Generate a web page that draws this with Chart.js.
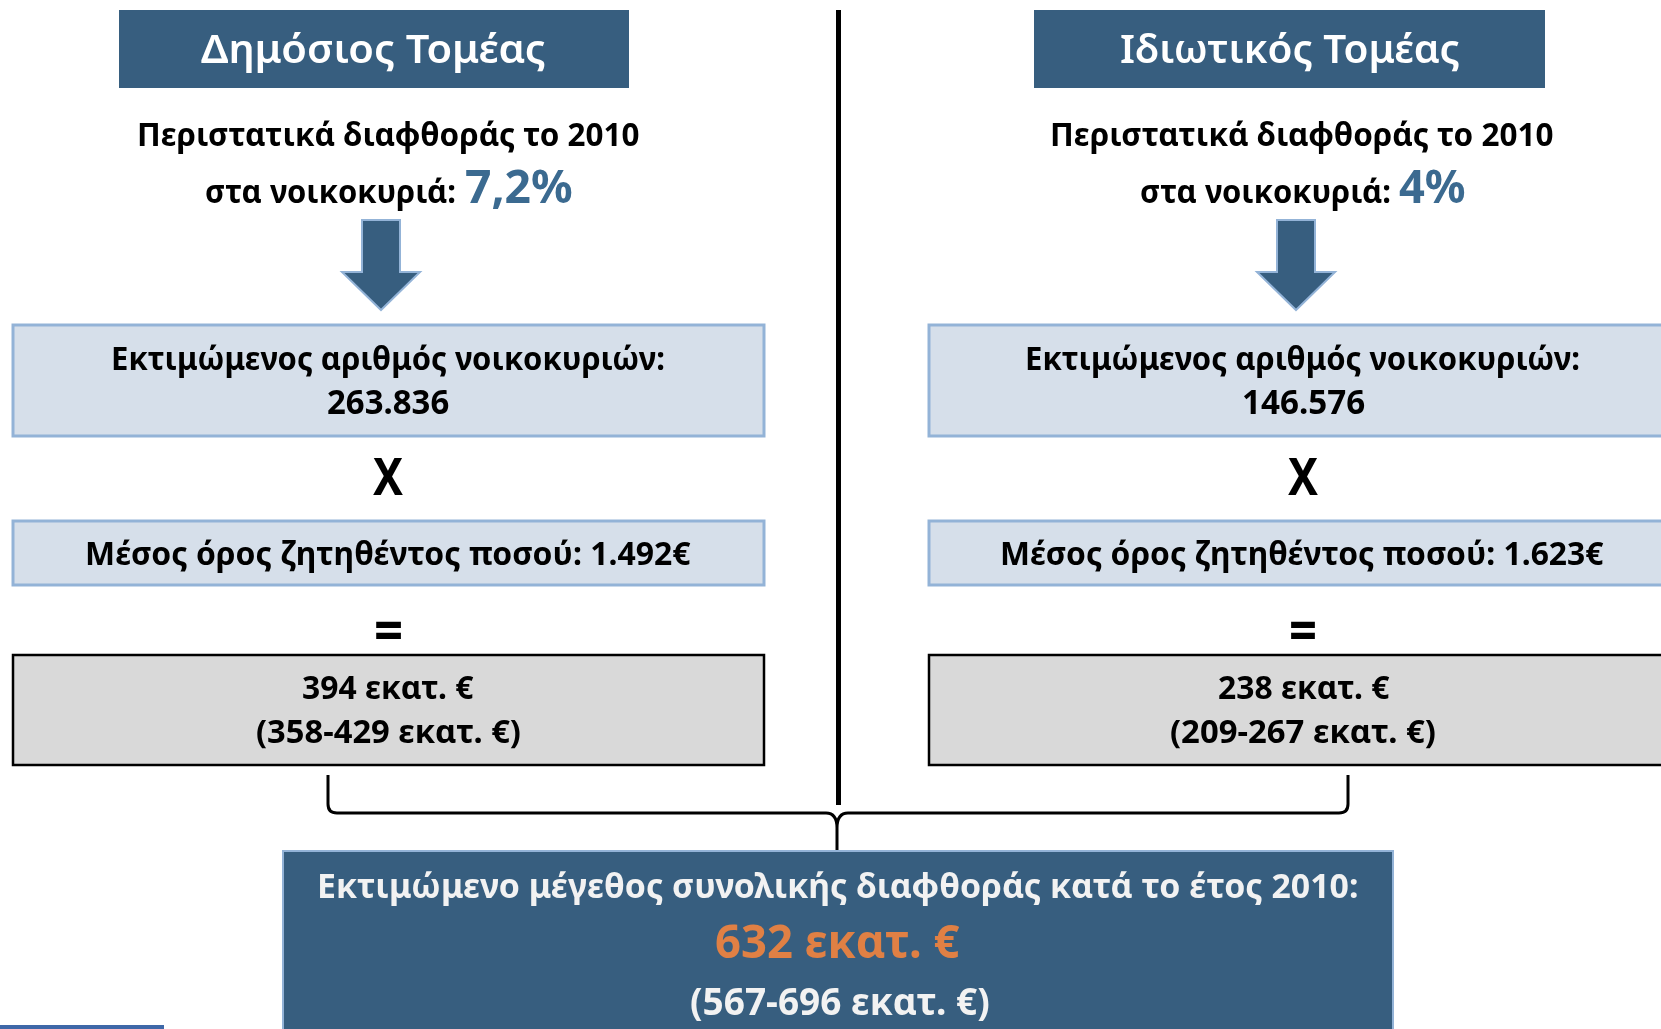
<!DOCTYPE HTML>
<html lang="el">
<head>
    <meta charset="UTF-8">
    <title>Εκτιμώμενο μέγεθος διαφθοράς 2010</title>
    <style>
        html, body {
            margin: 0;
            padding: 0;
            background: #fff;
            overflow: hidden;
        }
        #chart-container {
            width: 1661px;
            height: 1029px;
        }
    </style>
</head>
<body>
    <div id="chart-container">
        <canvas id="chart"></canvas>
    </div>

    <script src="https://cdn.jsdelivr.net/npm/chart.js"></script>
    <script>
        // Δεδομένα (ένα στοιχείο ανά τομέα)
        const sectors = ['Δημόσιος Τομέας', 'Ιδιωτικός Τομέας'];
        const incidenceRate = [7.2, 4];          // % νοικοκυριών
        const households = [263836, 146576];     // εκτιμώμενος αριθμός νοικοκυριών
        const avgAmount = [1492, 1623];          // € ανά περιστατικό
        const estimate = [394, 238];             // εκατ. €
        const estimateLow = [358, 209];
        const estimateHigh = [429, 267];
        const totalEstimate = 632;
        const totalLow = 567;
        const totalHigh = 696;

        // Κείμενα
        const incidenceLabel = 'Περιστατικά διαφθοράς το 2010';
        const householdsLabel = 'στα νοικοκυριά:';
        const countLabel = 'Εκτιμώμενος αριθμός νοικοκυριών:';
        const amountLabel = 'Μέσος όρος ζητηθέντος ποσού:';
        const totalLabel = 'Εκτιμώμενο μέγεθος συνολικής διαφθοράς κατά το έτος 2010:';
        const unit = 'εκατ. €';

        // Διάταξη (θέσεις σε pixel της εικόνας, ανά στήλη)
        const layout = {
            titleBox: [[119, 629], [1034, 1545]],
            titleText: [[201, 545], [1121, 1459]],
            line1: [[139, 639], [1052, 1553]],
            line2a: [[206, 455], [1141, 1390]],
            line2b: [[466, 572], [1399, 1465]],
            arrowX: [381, 1296],
            boxX: [[13, 764], [929, 1680]],
            countText: [[113, 664], [1027, 1579]],
            countValue: [[328, 449], [1243, 1365]],
            timesX: [[373, 403], [1288, 1318]],
            amountText: [[87, 691], [1002, 1604]],
            equalsX: [[376, 401], [1291, 1315]],
            estText: [[303, 474], [1219, 1390]],
            rangeText: [[257, 520], [1171, 1435]]
        };

        const navy = '#375e7f';
        const lightBlue = '#93b3d7';
        const paleBox = '#d6dfea';
        const grayBox = '#d9d9d9';
        const accentBlue = '#3b6a90';
        const orange = '#e08044';
        const FONT = '"Noto Sans", "DejaVu Sans", sans-serif';
        const CAP = 0.714;

        function fmtInt(n) {
            return String(n).replace(/\B(?=(\d{3})+(?!\d))/g, '.');
        }
        function fmtDec(n) {
            return String(n).replace('.', ',');
        }

        const diagramPlugin = {
            id: 'diagram',
            afterDraw(chart) {
                const ctx = chart.ctx;
                const sx = chart.scales.x, sy = chart.scales.y;
                const px = v => sx.getPixelForValue(v);
                const py = v => sy.getPixelForValue(v);

                // κείμενο με συγκεκριμένο ύψος κεφαλαίων και πλάτος
                function capText(txt, x0, x1, base, cap, color, weight) {
                    const size = cap / CAP;
                    ctx.save();
                    ctx.font = `${weight || 'bold'} ${size}px ${FONT}`;
                    ctx.fillStyle = color || '#000';
                    ctx.textAlign = 'left';
                    ctx.textBaseline = 'alphabetic';
                    const m = ctx.measureText(txt);
                    const inkW = m.actualBoundingBoxLeft + m.actualBoundingBoxRight;
                    ctx.translate(px(x0), py(base));
                    ctx.scale((px(x1) - px(x0)) / inkW, 1);
                    ctx.fillText(txt, m.actualBoundingBoxLeft, 0);
                    ctx.restore();
                }
                // κείμενο που γεμίζει ένα κουτί
                function boxText(txt, x0, x1, y0, y1, color) {
                    ctx.save();
                    ctx.font = `bold 100px ${FONT}`;
                    ctx.fillStyle = color || '#000';
                    ctx.textAlign = 'left';
                    ctx.textBaseline = 'alphabetic';
                    const m = ctx.measureText(txt);
                    const inkW = m.actualBoundingBoxLeft + m.actualBoundingBoxRight;
                    const inkH = m.actualBoundingBoxAscent + m.actualBoundingBoxDescent;
                    ctx.translate(px(x0), py(y0));
                    ctx.scale((px(x1) - px(x0)) / inkW, (py(y1) - py(y0)) / inkH);
                    ctx.fillText(txt, m.actualBoundingBoxLeft, m.actualBoundingBoxAscent);
                    ctx.restore();
                }
                function rect(x0, x1, y0, y1, fill, stroke, lw) {
                    ctx.save();
                    ctx.fillStyle = fill;
                    ctx.fillRect(px(x0), py(y0), px(x1) - px(x0), py(y1) - py(y0));
                    if (stroke) {
                        ctx.strokeStyle = stroke;
                        ctx.lineWidth = lw;
                        ctx.strokeRect(px(x0), py(y0), px(x1) - px(x0), py(y1) - py(y0));
                    }
                    ctx.restore();
                }
                function arrow(cx) {
                    ctx.save();
                    ctx.beginPath();
                    ctx.moveTo(px(cx - 19), py(220));
                    ctx.lineTo(px(cx + 19), py(220));
                    ctx.lineTo(px(cx + 19), py(272));
                    ctx.lineTo(px(cx + 39), py(272));
                    ctx.lineTo(px(cx), py(310));
                    ctx.lineTo(px(cx - 39), py(272));
                    ctx.lineTo(px(cx - 19), py(272));
                    ctx.closePath();
                    ctx.fillStyle = navy;
                    ctx.fill();
                    ctx.strokeStyle = lightBlue;
                    ctx.lineWidth = 2;
                    ctx.stroke();
                    ctx.restore();
                }

                // διαχωριστική γραμμή
                ctx.save();
                ctx.strokeStyle = '#000';
                ctx.lineWidth = 5;
                ctx.beginPath();
                ctx.moveTo(px(838.5), py(10));
                ctx.lineTo(px(838.5), py(805));
                ctx.stroke();
                ctx.restore();

                sectors.forEach((name, i) => {
                    const L = k => layout[k][i];
                    // τίτλος
                    rect(L('titleBox')[0], L('titleBox')[1], 10, 88, navy);
                    capText(name, L('titleText')[0], L('titleText')[1], 63, 28, '#fff', '600');
                    // ποσοστό
                    capText(incidenceLabel, L('line1')[0], L('line1')[1], 146, 23);
                    capText(householdsLabel, L('line2a')[0], L('line2a')[1], 203, 23);
                    capText(fmtDec(incidenceRate[i]) + '%', L('line2b')[0], L('line2b')[1], 203, 33, accentBlue);
                    arrow(layout.arrowX[i]);
                    // νοικοκυριά
                    const bx = L('boxX');
                    rect(bx[0], bx[1], 325, 436, paleBox, lightBlue, 3);
                    capText(countLabel, L('countText')[0], L('countText')[1], 370, 23);
                    capText(fmtInt(households[i]), L('countValue')[0], L('countValue')[1], 414, 24);
                    boxText('X', L('timesX')[0], L('timesX')[1], 458, 495);
                    // μέσο ποσό
                    rect(bx[0], bx[1], 521, 585, paleBox, lightBlue, 3);
                    capText(amountLabel + ' ' + fmtInt(avgAmount[i]) + '€', L('amountText')[0], L('amountText')[1], 565, 23);
                    boxText('=', L('equalsX')[0], L('equalsX')[1], 620, 638);
                    // αποτέλεσμα
                    rect(bx[0], bx[1], 655, 765, grayBox, '#000', 2.5);
                    capText(estimate[i] + ' ' + unit, L('estText')[0], L('estText')[1], 699, 23);
                    capText('(' + estimateLow[i] + '-' + estimateHigh[i] + ' ' + unit + ')', L('rangeText')[0], L('rangeText')[1], 743, 23);
                });

                // άγκιστρο
                ctx.save();
                ctx.strokeStyle = '#000';
                ctx.lineWidth = 3;
                ctx.lineJoin = 'round';
                ctx.beginPath();
                ctx.moveTo(px(328), py(775));
                ctx.lineTo(px(328), py(804));
                ctx.quadraticCurveTo(px(328), py(813), px(337), py(813));
                ctx.lineTo(px(826), py(813));
                ctx.quadraticCurveTo(px(837), py(813), px(837), py(828));
                ctx.lineTo(px(837), py(851));
                ctx.moveTo(px(837), py(828));
                ctx.quadraticCurveTo(px(837), py(813), px(848), py(813));
                ctx.lineTo(px(1339), py(813));
                ctx.quadraticCurveTo(px(1348), py(813), px(1348), py(804));
                ctx.lineTo(px(1348), py(775));
                ctx.stroke();
                ctx.restore();

                // σύνολο
                rect(283, 1393, 851, 1040, navy, lightBlue, 2);
                capText(totalLabel, 320, 1357, 898, 24, '#f2f2f2');
                capText(totalEstimate + ' ' + unit, 716, 960, 958, 33, orange);
                capText('(' + totalLow + '-' + totalHigh + ' ' + unit + ')', 691, 989, 1015, 27, '#f2f2f2');

                // μπλε λωρίδα κάτω αριστερά
                rect(0, 164, 1025, 1029, '#3e68a8');
            }
        };

        const chart = new Chart(document.getElementById('chart').getContext('2d'), {
            type: 'scatter',
            data: { datasets: [] },
            options: {
                responsive: true,
                maintainAspectRatio: false,
                animation: false,
                layout: { padding: 0 },
                plugins: {
                    legend: { display: false },
                    tooltip: { enabled: false }
                },
                scales: {
                    x: { type: 'linear', min: 0, max: 1661, display: false },
                    y: { type: 'linear', min: 0, max: 1029, reverse: true, display: false }
                }
            },
            plugins: [diagramPlugin]
        });
    </script>
</body>
</html>
